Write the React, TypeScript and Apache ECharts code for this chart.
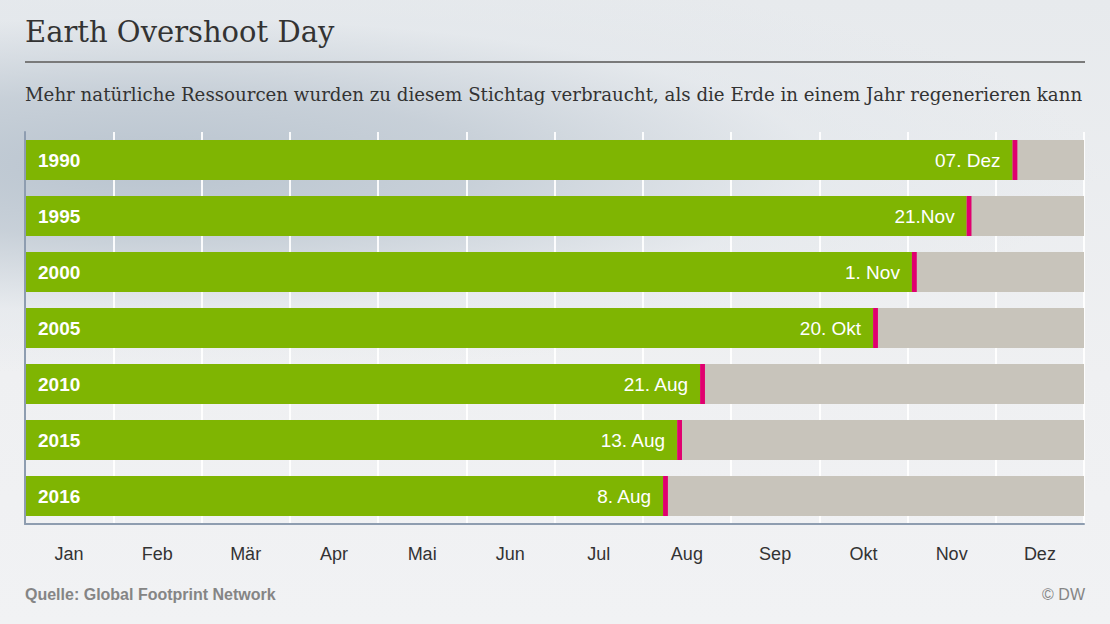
import React, { useEffect, useRef } from "react";
import * as echarts from "echarts";

const years = ["1990", "1995", "2000", "2005", "2010", "2015", "2016"];
const dateLabels = ["07. Dez", "21.Nov", "1. Nov", "20. Okt", "21. Aug", "13. Aug", "8. Aug"];
// position on the year, in months from 1 January
const overshoot = [11.19, 10.67, 10.05, 9.61, 7.65, 7.39, 7.23];
const markerWidth = [0.055, 0.055, 0.055, 0.055, 0.055, 0.055, 0.055];
const months = ["Jan", "Feb", "Mär", "Apr", "Mai", "Jun", "Jul", "Aug", "Sep", "Okt", "Nov", "Dez"];

const W = 1110;
const H = 624;

export default function App() {
  const ref = useRef<HTMLDivElement>(null);
  useEffect(() => {
    if (!ref.current) return;
    const chart = echarts.init(ref.current, null, { renderer: "svg", width: W, height: H });
    const sans = "'Liberation Sans', Arial, sans-serif";
    const serif = "'DejaVu Serif', Georgia, serif";
    chart.setOption({
      animation: false,
      grid: { left: 25, right: 26, top: 132, height: 392 },
      xAxis: [
        {
          type: "value",
          min: 0,
          max: 12,
          interval: 1,
          axisLine: { show: true, onZero: false, lineStyle: { color: "#8e9db0", width: 2 } },
          axisTick: { show: false },
          axisLabel: { show: false },
          splitLine: { show: true, lineStyle: { color: "#ffffff", width: 2, opacity: 0.9 } },
        },
        {
          type: "category",
          data: months,
          position: "bottom",
          boundaryGap: true,
          axisLine: { show: false },
          axisTick: { show: false },
          splitLine: { show: false },
          axisLabel: { color: "#333333", fontSize: 18, fontFamily: sans, margin: 21 },
        },
      ],
      yAxis: {
        type: "category",
        data: years,
        inverse: true,
        z: 10,
        axisLine: { show: true, lineStyle: { color: "#8e9db0", width: 2 } },
        axisTick: { show: false },
        splitLine: { show: false },
        axisLabel: {
          inside: true,
          margin: 13,
          color: "#ffffff",
          fontWeight: "bold",
          fontSize: 19,
          fontFamily: sans,
        },
      },
      series: [
        {
          type: "bar",
          stack: "d",
          data: overshoot,
          barWidth: 40,
          itemStyle: { color: "#7fb502" },
          showBackground: true,
          backgroundStyle: { color: "#c8c4bb" },
          label: {
            show: true,
            position: "insideRight",
            distance: 12,
            color: "#ffffff",
            fontSize: 19,
            fontFamily: sans,
            formatter: (p: any) => dateLabels[p.dataIndex],
          },
        },
        {
          type: "bar",
          stack: "d",
          data: markerWidth,
          barWidth: 40,
          itemStyle: { color: "#e0006f" },
        },
      ],
      graphic: [
        {
          type: "text",
          left: 25,
          top: 17,
          style: { text: "Earth Overshoot Day", fontFamily: serif, fontSize: 29, fill: "#333333" },
        },
        {
          type: "rect",
          shape: { x: 25, y: 61, width: 1060, height: 2 },
          style: { fill: "#7a7a7a" },
        },
        {
          type: "text",
          left: 25,
          top: 85,
          style: {
            text: "Mehr natürliche Ressourcen wurden zu diesem Stichtag verbraucht, als die Erde in einem Jahr regenerieren kann",
            fontFamily: serif,
            fontSize: 18.2,
            fill: "#333333",
          },
        },
        {
          type: "text",
          left: 25,
          top: 586,
          style: {
            text: "Quelle: Global Footprint Network",
            fontFamily: sans,
            fontWeight: "bold",
            fontSize: 16,
            fill: "#858585",
          },
        },
        {
          type: "text",
          right: 25,
          top: 586,
          style: { text: "© DW", fontFamily: sans, fontSize: 16, fill: "#858585" },
        },
      ],
    });
    return () => chart.dispose();
  }, []);
  return (
    <div
      style={{
        position: "fixed",
        left: 0,
        top: 0,
        width: W,
        height: H,
        background:
          "radial-gradient(ellipse 950px 210px at 150px 165px, #b9c4cf 0%, rgba(196,205,214,0.9) 35%, rgba(225,230,235,0.5) 70%, rgba(238,240,242,0) 100%), linear-gradient(#e7eaed, #eff0f2 60%, #f1f2f4)",
      }}
    >
      <div ref={ref} style={{ width: W, height: H }} />
    </div>
  );
}
